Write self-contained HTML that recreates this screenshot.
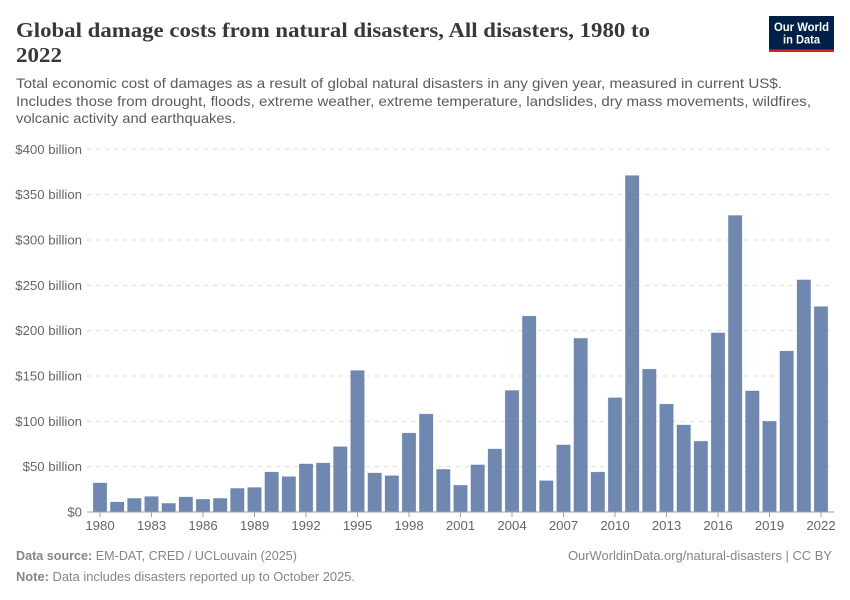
<!DOCTYPE html>
<html lang="en">
<head>
<meta charset="utf-8">
<title>Global damage costs from natural disasters</title>
<style>
html,body{margin:0;padding:0;background:#fff;}
svg{display:block;}
text{font-family:"Liberation Sans",sans-serif;}
</style>
</head>
<body>
<svg id="chart" width="850" height="600" viewBox="0 0 850 600" xmlns="http://www.w3.org/2000/svg">
  <rect x="0" y="0" width="850" height="600" fill="#fff"/>
  <g fill="#383838" font-size="21" font-weight="700">
    <text x="16" y="37" textLength="634" lengthAdjust="spacingAndGlyphs" style="font-family:'Liberation Serif',serif">Global damage costs from natural disasters, All disasters, 1980 to</text>
    <text x="16" y="62" textLength="46" lengthAdjust="spacingAndGlyphs" style="font-family:'Liberation Serif',serif">2022</text>
  </g>
  <g fill="#5b5b5b" font-size="14">
    <text x="16" y="88" textLength="766" lengthAdjust="spacingAndGlyphs">Total economic cost of damages as a result of global natural disasters in any given year, measured in current US$.</text>
    <text x="16" y="106" textLength="795" lengthAdjust="spacingAndGlyphs">Includes those from drought, floods, extreme weather, extreme temperature, landslides, dry mass movements, wildfires,</text>
    <text x="16" y="123" textLength="220" lengthAdjust="spacingAndGlyphs">volcanic activity and earthquakes.</text>
  </g>
  <g>
    <rect x="769" y="16" width="65" height="36" fill="#002147"/>
    <rect x="769" y="49.5" width="65" height="2.5" fill="#ce261e"/>
    <text x="801.5" y="31" text-anchor="middle" fill="#fff" font-size="12" font-weight="700" textLength="55" lengthAdjust="spacingAndGlyphs">Our World</text>
    <text x="801.5" y="43.5" text-anchor="middle" fill="#fff" font-size="12" font-weight="700" textLength="37" lengthAdjust="spacingAndGlyphs">in Data</text>
  </g>
  <g id="grid"></g>
  <g id="yLabels"></g>
  <g id="bars"></g>
  <line x1="87" x2="834" y1="512" y2="512" stroke="#a1a1a1" stroke-width="1"/>
  <g id="xTicks"></g>
  <g fill="#858585" font-size="12.8">
    <text x="16" y="560" textLength="281" lengthAdjust="spacingAndGlyphs"><tspan font-weight="700">Data source:</tspan> EM-DAT, CRED / UCLouvain (2025)</text>
    <text x="832" y="560" text-anchor="end" textLength="264" lengthAdjust="spacingAndGlyphs">OurWorldinData.org/natural-disasters | CC BY</text>
    <text x="16" y="581" textLength="339" lengthAdjust="spacingAndGlyphs"><tspan font-weight="700">Note:</tspan> Data includes disasters reported up to October 2025.</text>
  </g>
</svg>
<script>
const years = [1980,1981,1982,1983,1984,1985,1986,1987,1988,1989,1990,1991,1992,1993,1994,1995,1996,1997,1998,1999,2000,2001,2002,2003,2004,2005,2006,2007,2008,2009,2010,2011,2012,2013,2014,2015,2016,2017,2018,2019,2020,2021,2022];
const damageBillions = [32,11,15,17,9.5,16.5,14,15,26,27,44,39,53,54,72,156,43,40,87,108,47,29.5,52,69.5,134,216,34.5,74,191.5,44,126,371,157.5,119,96,78,197.5,327,133.5,100,177.5,256,226.5];
const yTicks = [0,50,100,150,200,250,300,350,400];
const yTickLabels = ['$0','$50 billion','$100 billion','$150 billion','$200 billion','$250 billion','$300 billion','$350 billion','$400 billion'];
const xTickYears = [1980,1983,1986,1989,1992,1995,1998,2001,2004,2007,2010,2013,2016,2019,2022];

const NS = 'http://www.w3.org/2000/svg';
const yScale = v => 512 - v * (512 - 149.3) / 400;
const xScale = yr => 100 + (yr - 1980) * (821 - 100) / 42;
const barWidth = 13.6;

function make(tag, attrs, parent) {
  const el = document.createElementNS(NS, tag);
  for (const k in attrs) el.setAttribute(k, attrs[k]);
  parent.appendChild(el);
  return el;
}

const grid = document.getElementById('grid');
const yLabels = document.getElementById('yLabels');
yTicks.forEach((t, i) => {
  if (t !== 0) {
    const ln = make('line', {x1: 87, x2: 834, y1: yScale(t), y2: yScale(t), stroke: '#dddddd', 'stroke-dasharray': '4 5', 'stroke-width': 1}, grid);
    
    
  }
  const lb = make('text', {x: 82, y: yScale(t) + 4.5, 'text-anchor': 'end', 'font-size': 13.2, fill: '#666'}, yLabels);
  lb.textContent = yTickLabels[i];
  
  
});

const bars = document.getElementById('bars');
years.forEach((yr, i) => {
  const top = yScale(damageBillions[i]);
  const r = make('rect', {x: xScale(yr) - barWidth / 2, y: top, width: barWidth, height: 512 - top, fill: '#4c6a9c', 'fill-opacity': 0.8, stroke: '#4c6a9c', 'stroke-opacity': 0.25, 'stroke-width': 0.8}, bars);
  
  
});

const xTicks = document.getElementById('xTicks');
xTickYears.forEach(yr => {
  const x = xScale(yr);
  const tk = make('line', {x1: x, x2: x, y1: 512, y2: 517, stroke: '#a1a1a1', 'stroke-width': 1}, xTicks);
  
  
  const lb = make('text', {x: x, y: 530, 'text-anchor': 'middle', 'font-size': 13.2, fill: '#666'}, xTicks);
  lb.textContent = yr;
  
  
});
</script>
</body>
</html>
